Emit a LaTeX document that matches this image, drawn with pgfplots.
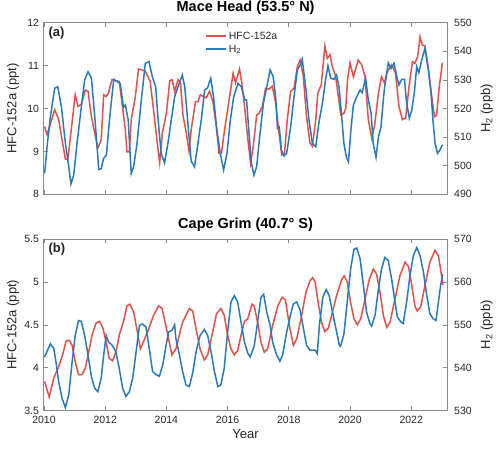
\documentclass[border=0pt]{standalone}
\usepackage{fontspec}
\setmainfont{Liberation Sans}
\usepackage{pgfplots}
\usepackage{pgfplotstable}
\pgfplotsset{compat=1.18}

\definecolor{hfcred}{RGB}{222,83,74}
\definecolor{htwoblue}{RGB}{42,121,187}
\definecolor{axgray}{RGB}{140,140,140}
\definecolor{txt}{RGB}{38,38,38}

% strut that sets the height of a legend row
\newcommand\lgs{\rule[-2pt]{0pt}{10.4pt}}

% Mace Head HFC-152a (ppt)
\pgfplotstableread{
year val
2010.02 9.58
2010.10 9.39
2010.35 9.97
2010.48 9.74
2010.59 9.27
2010.70 8.82
2010.78 8.82
2010.89 9.50
2011.02 10.32
2011.11 10.05
2011.22 10.10
2011.35 10.43
2011.44 10.40
2011.55 9.81
2011.68 9.35
2011.76 9.08
2011.87 9.27
2011.95 10.32
2012.03 10.28
2012.11 10.37
2012.22 10.67
2012.46 10.63
2012.55 10.13
2012.66 9.50
2012.71 8.99
2012.79 8.99
2012.85 9.74
2012.98 10.25
2013.09 10.92
2013.20 10.90
2013.31 10.87
2013.47 10.63
2013.58 9.97
2013.69 9.27
2013.78 8.74
2013.87 9.43
2014.00 9.89
2014.11 10.65
2014.19 10.67
2014.27 10.40
2014.38 10.67
2014.46 10.60
2014.54 9.85
2014.65 9.43
2014.74 9.00
2014.81 9.50
2014.95 10.16
2015.03 10.16
2015.11 10.32
2015.20 10.28
2015.30 10.25
2015.41 10.40
2015.52 10.16
2015.63 9.58
2015.72 8.96
2015.80 8.96
2015.90 9.50
2016.05 10.20
2016.18 10.82
2016.26 10.60
2016.39 10.92
2016.48 10.52
2016.56 10.00
2016.64 9.43
2016.75 8.73
2016.84 9.12
2016.95 9.85
2017.03 9.89
2017.14 10.05
2017.24 10.47
2017.35 10.45
2017.46 10.52
2017.57 10.13
2017.68 9.43
2017.77 8.92
2017.86 8.96
2017.95 9.74
2018.06 10.40
2018.17 10.47
2018.28 10.98
2018.37 11.13
2018.47 10.78
2018.58 9.81
2018.69 9.20
2018.77 9.12
2018.88 9.74
2018.95 10.36
2019.06 10.55
2019.18 11.46
2019.26 11.17
2019.35 11.25
2019.42 10.98
2019.53 10.75
2019.70 9.85
2019.80 9.89
2019.86 10.00
2019.92 10.67
2020.00 11.07
2020.11 10.74
2020.27 11.13
2020.38 11.02
2020.49 10.74
2020.60 9.74
2020.71 9.31
2020.80 9.58
2020.93 10.36
2021.03 10.74
2021.12 10.60
2021.23 10.87
2021.36 11.02
2021.49 10.82
2021.60 10.05
2021.71 9.74
2021.82 9.78
2021.93 10.52
2022.04 11.09
2022.12 11.05
2022.21 11.21
2022.29 11.67
2022.36 11.48
2022.45 11.46
2022.56 10.94
2022.67 10.28
2022.76 9.81
2022.83 9.85
2022.92 10.52
2023.02 11.07
}\mhhfc

% Mace Head H2 (ppb)
\pgfplotstableread{
year val
2010.02 497.3
2010.10 506.6
2010.21 517.1
2010.35 527.1
2010.45 527.6
2010.57 520.6
2010.70 507.8
2010.81 499.7
2010.88 493.6
2010.97 496.7
2011.08 507.8
2011.22 520.6
2011.33 530.0
2011.44 532.9
2011.55 530.6
2011.66 517.1
2011.79 498.7
2011.87 499.0
2011.95 502.6
2012.04 503.8
2012.15 517.1
2012.28 530.2
2012.39 529.4
2012.49 528.8
2012.60 520.4
2012.66 521.2
2012.75 516.2
2012.85 497.3
2012.93 499.7
2013.04 507.8
2013.17 521.8
2013.31 535.8
2013.43 536.4
2013.54 531.1
2013.65 527.6
2013.73 516.0
2013.83 504.3
2013.94 501.0
2014.05 507.8
2014.16 516.0
2014.27 524.1
2014.38 527.6
2014.52 531.7
2014.60 527.6
2014.71 513.9
2014.81 501.6
2014.92 499.6
2015.03 507.8
2015.14 516.0
2015.25 526.5
2015.34 527.1
2015.45 530.6
2015.54 524.1
2015.65 512.5
2015.76 504.3
2015.87 498.5
2015.98 504.3
2016.09 516.0
2016.20 524.1
2016.34 528.8
2016.45 527.6
2016.56 523.0
2016.62 523.0
2016.70 511.3
2016.78 500.8
2016.86 496.7
2016.95 499.7
2017.06 511.3
2017.17 521.8
2017.28 527.6
2017.39 533.5
2017.49 531.1
2017.57 524.1
2017.63 513.0
2017.69 513.5
2017.76 505.5
2017.84 503.4
2017.93 504.3
2018.06 513.5
2018.17 524.1
2018.28 533.5
2018.37 535.2
2018.44 537.2
2018.55 527.6
2018.66 516.0
2018.77 507.8
2018.88 506.6
2018.99 515.5
2019.10 521.8
2019.20 530.0
2019.28 534.9
2019.37 530.6
2019.48 530.2
2019.56 531.7
2019.64 527.6
2019.72 518.3
2019.80 507.8
2019.88 503.0
2019.95 501.4
2020.03 512.5
2020.11 521.2
2020.22 524.1
2020.33 526.5
2020.40 525.5
2020.51 530.6
2020.60 523.0
2020.69 518.3
2020.76 507.8
2020.85 502.9
2020.93 510.1
2021.01 513.5
2021.12 526.5
2021.25 536.0
2021.34 534.0
2021.44 535.8
2021.53 531.1
2021.60 528.2
2021.69 530.2
2021.78 530.2
2021.85 521.8
2021.94 516.6
2022.02 519.5
2022.10 525.3
2022.18 534.6
2022.25 532.5
2022.34 536.9
2022.45 541.0
2022.56 533.5
2022.65 525.3
2022.71 516.0
2022.78 507.8
2022.86 504.3
2022.94 505.5
2023.02 507.3
}\mhhtwo

% Cape Grim HFC-152a (ppt)
\pgfplotstableread{
year val
2010.02 3.84
2010.17 3.66
2010.32 3.88
2010.48 4.01
2010.61 4.15
2010.72 4.31
2010.83 4.32
2010.92 4.26
2011.02 4.07
2011.13 3.92
2011.24 3.92
2011.35 3.99
2011.46 4.18
2011.57 4.38
2011.70 4.52
2011.81 4.54
2011.92 4.47
2012.03 4.30
2012.13 4.11
2012.24 4.08
2012.35 4.18
2012.46 4.38
2012.60 4.54
2012.71 4.72
2012.80 4.74
2012.93 4.65
2013.04 4.44
2013.15 4.22
2013.26 4.31
2013.42 4.45
2013.58 4.61
2013.75 4.72
2013.86 4.69
2013.97 4.51
2014.07 4.34
2014.18 4.15
2014.31 4.22
2014.53 4.53
2014.75 4.69
2014.86 4.66
2014.97 4.45
2015.10 4.22
2015.24 4.09
2015.35 4.15
2015.49 4.38
2015.64 4.63
2015.78 4.69
2015.89 4.61
2016.00 4.38
2016.11 4.22
2016.22 4.15
2016.33 4.20
2016.44 4.38
2016.55 4.54
2016.66 4.57
2016.80 4.74
2016.87 4.72
2016.98 4.53
2017.09 4.30
2017.20 4.18
2017.31 4.22
2017.47 4.49
2017.64 4.72
2017.78 4.82
2017.89 4.79
2018.02 4.49
2018.15 4.26
2018.26 4.34
2018.40 4.57
2018.56 4.88
2018.69 5.01
2018.78 5.05
2018.86 5.00
2018.96 4.76
2019.07 4.53
2019.18 4.42
2019.29 4.46
2019.40 4.61
2019.56 4.84
2019.73 5.03
2019.81 5.07
2019.91 5.00
2020.02 4.76
2020.13 4.57
2020.24 4.50
2020.35 4.57
2020.49 4.80
2020.63 5.03
2020.76 5.15
2020.87 5.09
2020.98 4.88
2021.09 4.61
2021.20 4.47
2021.31 4.53
2021.47 4.80
2021.63 5.07
2021.80 5.23
2021.91 5.18
2022.02 4.96
2022.12 4.72
2022.20 4.66
2022.31 4.71
2022.45 4.96
2022.61 5.23
2022.78 5.37
2022.89 5.30
2022.96 5.15
2023.03 4.96
}\cghfc

% Cape Grim H2 (ppb)
\pgfplotstableread{
year val
2010.02 542.5
2010.21 545.6
2010.32 544.5
2010.39 541.4
2010.48 536.7
2010.59 532.9
2010.70 530.7
2010.81 533.7
2010.92 541.4
2011.02 547.5
2011.13 551.0
2011.22 550.8
2011.33 547.5
2011.44 542.9
2011.55 537.9
2011.66 535.2
2011.76 534.4
2011.87 537.6
2011.95 542.9
2012.03 547.5
2012.11 546.0
2012.22 545.3
2012.35 543.7
2012.46 539.8
2012.57 535.2
2012.68 533.3
2012.79 534.4
2012.90 537.6
2013.01 543.7
2013.12 549.9
2013.22 550.2
2013.33 549.5
2013.44 544.5
2013.55 539.1
2013.66 538.4
2013.77 538.0
2013.88 540.6
2013.99 545.2
2014.07 548.3
2014.18 548.7
2014.27 550.0
2014.31 546.8
2014.42 543.2
2014.53 539.1
2014.64 536.0
2014.75 535.6
2014.86 538.8
2014.97 543.7
2015.10 547.5
2015.24 548.9
2015.35 547.5
2015.46 543.7
2015.57 539.1
2015.68 535.6
2015.78 536.0
2015.89 539.9
2016.00 548.3
2016.11 555.3
2016.22 556.8
2016.33 555.3
2016.44 550.6
2016.55 546.0
2016.66 543.4
2016.74 542.5
2016.87 545.1
2016.98 550.6
2017.09 556.4
2017.18 557.1
2017.28 552.9
2017.39 549.9
2017.47 546.0
2017.60 543.0
2017.71 541.5
2017.80 543.0
2017.91 547.5
2018.02 551.3
2018.15 554.9
2018.26 555.3
2018.37 553.4
2018.48 549.1
2018.58 545.2
2018.69 544.1
2018.86 544.1
2018.93 543.3
2019.00 549.9
2019.11 556.4
2019.22 558.2
2019.32 556.8
2019.43 552.9
2019.54 549.1
2019.65 545.3
2019.69 545.0
2019.80 547.8
2019.91 555.3
2020.02 563.0
2020.13 567.6
2020.22 567.9
2020.33 565.4
2020.44 559.1
2020.54 553.0
2020.65 550.3
2020.71 549.7
2020.82 552.3
2020.93 558.4
2021.03 563.0
2021.14 565.7
2021.25 565.0
2021.36 560.7
2021.47 555.3
2021.55 551.8
2021.66 550.7
2021.74 550.3
2021.85 555.3
2021.96 561.5
2022.07 566.1
2022.18 568.0
2022.29 566.1
2022.40 562.3
2022.51 556.8
2022.61 552.6
2022.72 551.4
2022.81 551.0
2022.89 555.3
2022.96 559.1
2023.03 561.8
}\cghtwo

\pgfplotsset{
  panel/.style={
    scale only axis, width=404.2pt, height=171.6pt,
    xmin=2009.984, xmax=2023.193,
    xtick={2010,2012,...,2022},
    tick align=inside,
    axis line style={axgray, line width=0.6pt},
    every tick/.append style={axgray, line width=0.6pt},
    tick label style={color=txt, font=\fontsize{10.5}{12}\selectfont,
      /pgf/number format/assume math mode=true},
    x tick label style={/pgf/number format/1000 sep={}, yshift=-2pt},
    label style={color=txt, font=\fontsize{13}{15}\selectfont},
    title style={color=black, font=\bfseries\fontsize{14.5}{17}\selectfont,
      at={(axis description cs:0.5,1)}, anchor=base},
  },
  leftside/.style={
    ytick pos=left, xtick pos=both,
    yticklabel style={xshift=-1pt},
    ylabel style={at={(axis description cs:-0.0673,0.5)}, anchor=base},
  },
  rightside/.style={
    axis y line*=right, axis x line=none,
    yticklabel style={xshift=3pt},
    ylabel style={at={(axis description cs:1.1047,0.5)}, anchor=base},
  },
  hfc/.style={hfcred, line width=1.5pt},
  htwo/.style={htwoblue, line width=1.5pt},
}

\begin{document}
\begin{tikzpicture}
\useasboundingbox (0,0) rectangle (500pt,-448pt);

% ---------------- Mace Head ----------------
\begin{axis}[panel, leftside,
  at={(43.5pt,-22.7pt)}, anchor=north west,
  ymin=8, ymax=12, ytick={8,9,10,11,12},
  xticklabels={},
  ylabel={HFC-152a (ppt)},
  title={Mace Head (53.5° N)},
  title style={yshift=5.5pt}]
\addplot[hfc] table[x=year, y=val] {\mhhfc};
\node[anchor=base west, font=\bfseries\fontsize{13}{15}\selectfont, text=txt]
  at (rel axis cs:0,1) [xshift=1.5pt, yshift=-13.7pt] {(a)};
\end{axis}

\begin{axis}[panel, rightside,
  at={(43.5pt,-22.7pt)}, anchor=north west,
  ymin=490, ymax=550, ytick={490,500,...,550},
  ylabel={H\textsubscript{2} (ppb)},
  legend style={draw=none, fill=none, at={(axis description cs:0.4,0.965)},
    anchor=north west, font=\fontsize{10.5}{12}\selectfont, text=txt,
    row sep=-1pt, inner sep=0pt},
  legend cell align=left,
  legend image code/.code={\draw[#1] (0pt,0pt) -- (20pt,0pt);}]
\addlegendimage{hfc}
\addplot[htwo] table[x=year, y=val] {\mhhtwo};
\legend{\lgs HFC-152a, \lgs H\textsubscript{2}}
\end{axis}

% ---------------- Cape Grim ----------------
\begin{axis}[panel, leftside,
  at={(43.5pt,-239pt)}, anchor=north west,
  ymin=3.5, ymax=5.5, ytick={3.5,4,4.5,5,5.5},
  xlabel={Year},
  xlabel style={at={(axis description cs:0.5,0)}, anchor=base, yshift=-28.3pt},
  ylabel={HFC-152a (ppt)},
  title={Cape Grim (40.7° S)},
  title style={yshift=4.5pt}]
\addplot[hfc] table[x=year, y=val] {\cghfc};
\node[anchor=base west, font=\bfseries\fontsize{13}{15}\selectfont, text=txt]
  at (rel axis cs:0,1) [xshift=1.5pt, yshift=-13.5pt] {(b)};
\end{axis}

\begin{axis}[panel, rightside,
  at={(43.5pt,-239pt)}, anchor=north west,
  ymin=530, ymax=570, ytick={530,540,...,570},
  ylabel={H\textsubscript{2} (ppb)}]
\addplot[htwo] table[x=year, y=val] {\cghtwo};
\end{axis}
\end{tikzpicture}
\end{document}
